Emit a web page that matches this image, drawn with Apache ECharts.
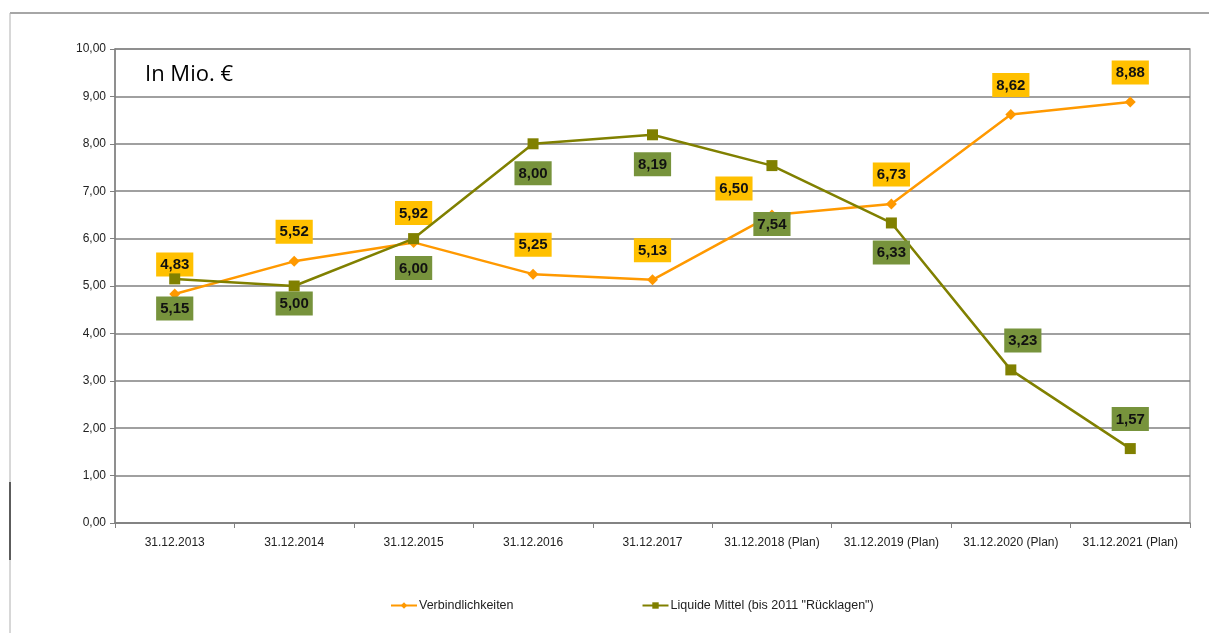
<!DOCTYPE html>
<html>
<head>
<meta charset="utf-8">
<script src="https://cdn.jsdelivr.net/npm/echarts@6/dist/echarts.min.js"></script>
<style>
html,body{margin:0;padding:0;background:#fff;}
#chart{width:1209px;height:633px;}
</style>
</head>
<body>
<div id="chart"></div>
<script>
var categories = ['31.12.2013','31.12.2014','31.12.2015','31.12.2016','31.12.2017','31.12.2018 (Plan)','31.12.2019 (Plan)','31.12.2020 (Plan)','31.12.2021 (Plan)'];
var verbindlichkeiten = [4.83, 5.52, 5.92, 5.25, 5.13, 6.50, 6.73, 8.62, 8.88];
var liquideMittel = [5.15, 5.00, 6.00, 8.00, 8.19, 7.54, 6.33, 3.23, 1.57];
var seriesNames = ['Verbindlichkeiten', 'Liquide Mittel (bis 2011 "Rücklagen")'];
var unitLabel = 'In Mio. €';

var bodyFont = '"Liberation Sans", Arial, sans-serif';
function fmt(v){ return v.toFixed(2).replace('.', ','); }

// label overrides by index (layout only)
var orangeLabelOverrides = {5: {offset: [-38, 3]}};
var greenLabelOverrides = {1: {offset: [0, -12]}, 5: {offset: [0, 29]}, 7: {position: 'top', offset: [12, 0]}, 8: {position: 'top'}};

function buildData(values, overrides){
  return values.map(function(v, i){
    var item = {value: v};
    if (overrides[i]) item.label = overrides[i];
    return item;
  });
}

var chart = echarts.init(document.getElementById('chart'), null, {renderer: 'canvas'});
var option = {
  animation: false,
  backgroundColor: '#fff',
  grid: {left: 115, right: 19, top: 49, bottom: 110, show: true, borderColor: '#a6a6a6', borderWidth: 1.5},
  xAxis: {
    type: 'category',
    data: categories,
    boundaryGap: true,
    axisLine: {lineStyle: {color: '#808080', width: 1.5}},
    axisTick: {show: true, length: 5, lineStyle: {color: '#808080'}},
    axisLabel: {interval: 0, color: '#222', fontFamily: bodyFont, fontSize: 12, margin: 14}
  },
  yAxis: {
    type: 'value',
    min: 0, max: 10, interval: 1,
    axisLine: {show: true, lineStyle: {color: '#808080', width: 1.5}},
    axisTick: {show: true, length: 5, lineStyle: {color: '#808080'}},
    axisLabel: {color: '#222', fontFamily: bodyFont, fontSize: 12, margin: 9, formatter: function(v){ return fmt(v); }},
    splitLine: {lineStyle: {color: '#808080', width: 1.5}}
  },
  legend: {
    bottom: 16,
    left: 385,
    itemGap: 128,
    itemWidth: 26,
    itemHeight: 8,
    textStyle: {color: '#222', fontFamily: bodyFont, fontSize: 12.5, padding: [0,0,0,-3]},
    data: seriesNames
  },
  series: [
    {
      name: seriesNames[1],
      type: 'line',
      data: buildData(liquideMittel, greenLabelOverrides),
      symbol: 'rect',
      symbolSize: 11,
      z: 3,
      lineStyle: {color: '#808000', width: 2.5},
      itemStyle: {color: '#808000'},
      label: {
        show: true,
        position: 'bottom',
        distance: 12,
        formatter: function(p){ return fmt(p.value); },
        backgroundColor: '#77933C',
        color: '#111',
        fontFamily: bodyFont,
        fontWeight: 'bold',
        fontSize: 15,
        padding: [5, 4, 4, 4]
      }
    },
    {
      name: seriesNames[0],
      type: 'line',
      data: buildData(verbindlichkeiten, orangeLabelOverrides),
      symbol: 'diamond',
      symbolSize: 11,
      z: 2,
      lineStyle: {color: '#FF9900', width: 2.5},
      itemStyle: {color: '#FF9900'},
      label: {
        show: true,
        position: 'top',
        distance: 12,
        formatter: function(p){ return fmt(p.value); },
        backgroundColor: '#FFC000',
        color: '#111',
        fontFamily: bodyFont,
        fontWeight: 'bold',
        fontSize: 15,
        padding: [5, 4, 4, 4]
      }
    }
  ],
  graphic: [
    {type: 'line', shape: {x1: 10, y1: 13, x2: 1209, y2: 13}, style: {stroke: '#a6a6a6', lineWidth: 2}},
    {type: 'line', shape: {x1: 10, y1: 13, x2: 10, y2: 633}, style: {stroke: '#b0b0b0', lineWidth: 1}},
    {type: 'line', shape: {x1: 10, y1: 482, x2: 10, y2: 560}, style: {stroke: '#333', lineWidth: 1.5}},
    {type: 'text', left: 145, top: 64, style: {text: unitLabel, fontFamily: '"Open Sans", "Noto Sans", sans-serif', fontSize: 22, fill: '#000'}}
  ]
};
chart.setOption(option);
</script>
</body>
</html>
